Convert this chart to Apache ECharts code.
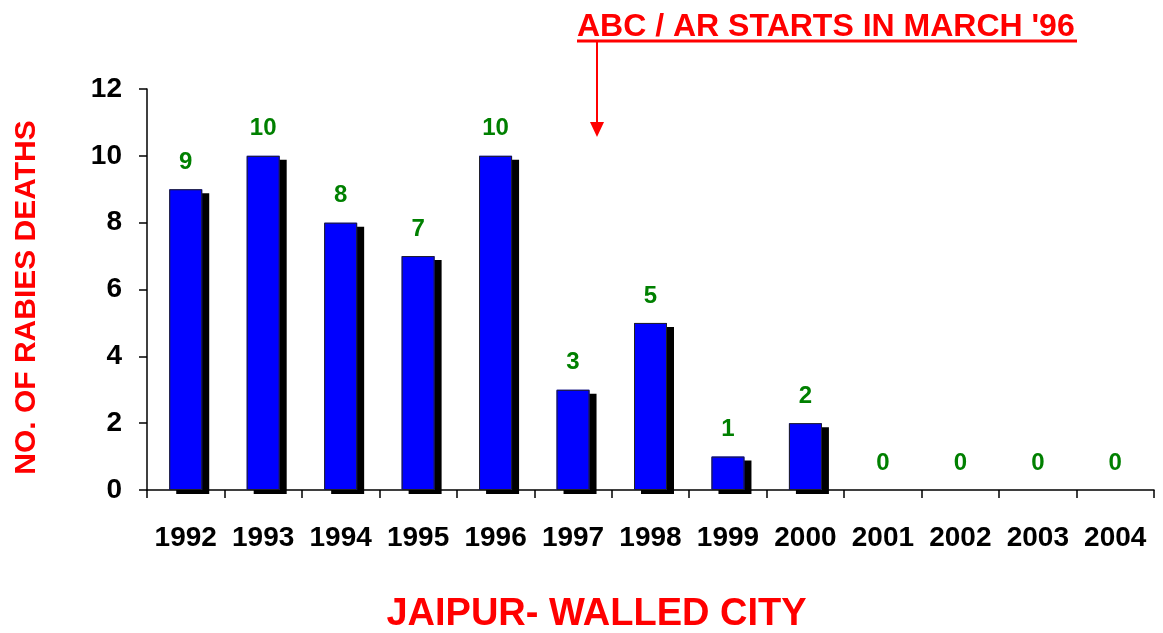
<!DOCTYPE html>
<html>
<head>
<meta charset="utf-8">
<script src="https://cdn.jsdelivr.net/npm/echarts@6/dist/echarts.min.js"></script>
<style>
  html, body { margin: 0; padding: 0; background: #fff; }
  #chart { width: 1163px; height: 633px; }
</style>
</head>
<body>
<div id="chart"></div>
<script>
var years = ['1992', '1993', '1994', '1995', '1996', '1997', '1998', '1999', '2000', '2001', '2002', '2003', '2004'];
var deaths = [9, 10, 8, 7, 10, 3, 5, 1, 2, 0, 0, 0, 0];
var yTicks = [0, 2, 4, 6, 8, 10, 12];

var FONT = 'Arial, "Liberation Sans", sans-serif';

var myChart = echarts.init(document.getElementById('chart'));

// zero bars: nothing drawn on the axis
var fillData = deaths.map(function (v) {
  if (v === 0) {
    return { value: v, itemStyle: { shadowColor: 'rgba(0,0,0,0)', color: 'rgba(0,0,0,0)' } };
  }
  return v;
});
var edgeData = deaths.map(function (v) {
  if (v === 0) {
    return { value: v, itemStyle: { borderWidth: 0 } };
  }
  return v;
});

var option = {
  backgroundColor: '#fff',
  animation: false,
  grid: { left: 147, right: 9, top: 89, bottom: 143, outerBoundsMode: 'none', containLabel: false },
  xAxis: {
    type: 'category',
    data: years,
    name: 'JAIPUR- WALLED CITY',
    nameLocation: 'middle',
    nameGap: 106,
    nameTextStyle: { color: '#ff0000', fontSize: 38, fontWeight: 'bold', fontFamily: FONT, padding: [0, 108, 0, 0] },
    axisLine: { lineStyle: { color: '#000', width: 1.5 } },
    axisTick: { show: true, length: 8, lineStyle: { color: '#000', width: 1.5 } },
    axisLabel: { color: '#000', fontSize: 28, fontWeight: 'bold', fontFamily: FONT, margin: 34, interval: 0 }
  },
  yAxis: {
    type: 'value',
    min: yTicks[0],
    max: yTicks[yTicks.length - 1],
    interval: 2,
    name: 'NO. OF RABIES DEATHS',
    nameLocation: 'middle',
    nameRotate: 90,
    nameGap: 105,
    nameTextStyle: { color: '#ff0000', fontSize: 30, fontWeight: 'bold', fontFamily: FONT, padding: [0, 16, 0, 0] },
    axisLine: { show: true, lineStyle: { color: '#000', width: 1.5 } },
    axisTick: { show: true, length: 8, lineStyle: { color: '#000', width: 1.5 } },
    splitLine: { show: false },
    axisLabel: { color: '#000', fontSize: 28, fontWeight: 'bold', fontFamily: FONT, margin: 25 }
  },
  series: [
    {
      // blue fill with the hard black drop shadow
      type: 'bar',
      data: fillData,
      barWidth: 33,
      barGap: '-100%',
      itemStyle: {
        color: '#0000ff',
        borderWidth: 0,
        shadowColor: '#000',
        shadowBlur: 0,
        shadowOffsetX: 7,
        shadowOffsetY: 4
      },
      label: {
        show: true,
        position: 'top',
        distance: 15,
        color: '#008000',
        fontSize: 24,
        fontWeight: 'bold',
        fontFamily: FONT
      }
    },
    {
      // thin outline on top, no shadow
      type: 'bar',
      data: edgeData,
      barWidth: 33,
      barGap: '-100%',
      silent: true,
      itemStyle: {
        color: 'rgba(0,0,0,0)',
        borderColor: '#222',
        borderWidth: 1
      }
    }
  ],
  graphic: [
    {
      type: 'text',
      left: 577,
      top: 11,
      style: {
        text: "ABC / AR STARTS IN MARCH '96",
        fill: '#ff0000',
        font: 'bold 32px ' + FONT
      }
    },
    {
      type: 'line',
      shape: { x1: 577, y1: 41, x2: 1077, y2: 41 },
      style: { stroke: '#ff0000', lineWidth: 3 }
    },
    {
      type: 'line',
      shape: { x1: 597, y1: 42, x2: 597, y2: 124 },
      style: { stroke: '#ff0000', lineWidth: 2 }
    },
    {
      type: 'polygon',
      shape: { points: [[590, 122], [604, 122], [597, 137]] },
      style: { fill: '#ff0000' }
    }
  ]
};

myChart.setOption(option);
</script>
</body>
</html>
